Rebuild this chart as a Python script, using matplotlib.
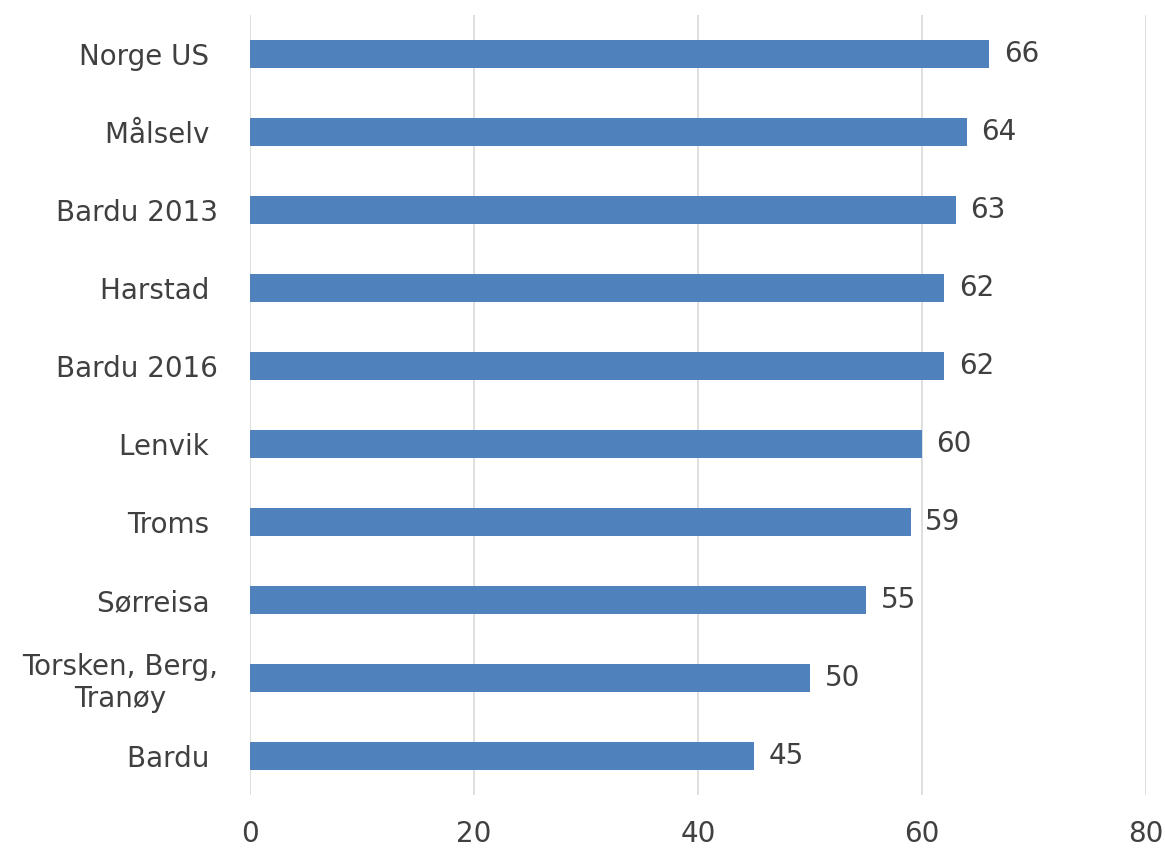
import matplotlib
matplotlib.use("Agg")
import matplotlib.pyplot as plt

categories = ["Norge US ", "Målselv ", "Bardu 2013", "Harstad ", "Bardu 2016",
              "Lenvik ", "Troms ", "Sørreisa ", "Torsken, Berg,\nTranøy", "Bardu "]
values = [66, 64, 63, 62, 62, 60, 59, 55, 50, 45]
xticks = [0, 20, 40, 60, 80]

fig = plt.figure(figsize=(11.65, 8.51), dpi=100)
ax = fig.add_axes([0.2146, 0.0658, 0.7691, 0.9162])

txt = "#404040"
ypos = list(range(len(categories)))
ax.barh(ypos, values, height=0.36, color="#4f81bd", zorder=3)
for y, v in zip(ypos, values):
    ax.text(v + 1.3, y, str(v), va="center", ha="left", fontsize=20, color=txt)

ax.set_xlim(0, 80)
ax.set_ylim(9.5, -0.5)
ax.set_xticks(xticks)
ax.set_xticklabels([str(t) for t in xticks], fontsize=20, color=txt)
ax.set_yticks(ypos)
ax.set_yticklabels(categories, fontsize=20, color=txt, ha="right",
                   multialignment="center")
ax.tick_params(axis="y", length=0, pad=23)
ax.tick_params(axis="x", length=0, pad=18)
ax.grid(axis="x", color="#d9d9d9", linewidth=1.2, zorder=0)
for s in ax.spines.values():
    s.set_visible(False)

fig.savefig("out.png", dpi=100)
